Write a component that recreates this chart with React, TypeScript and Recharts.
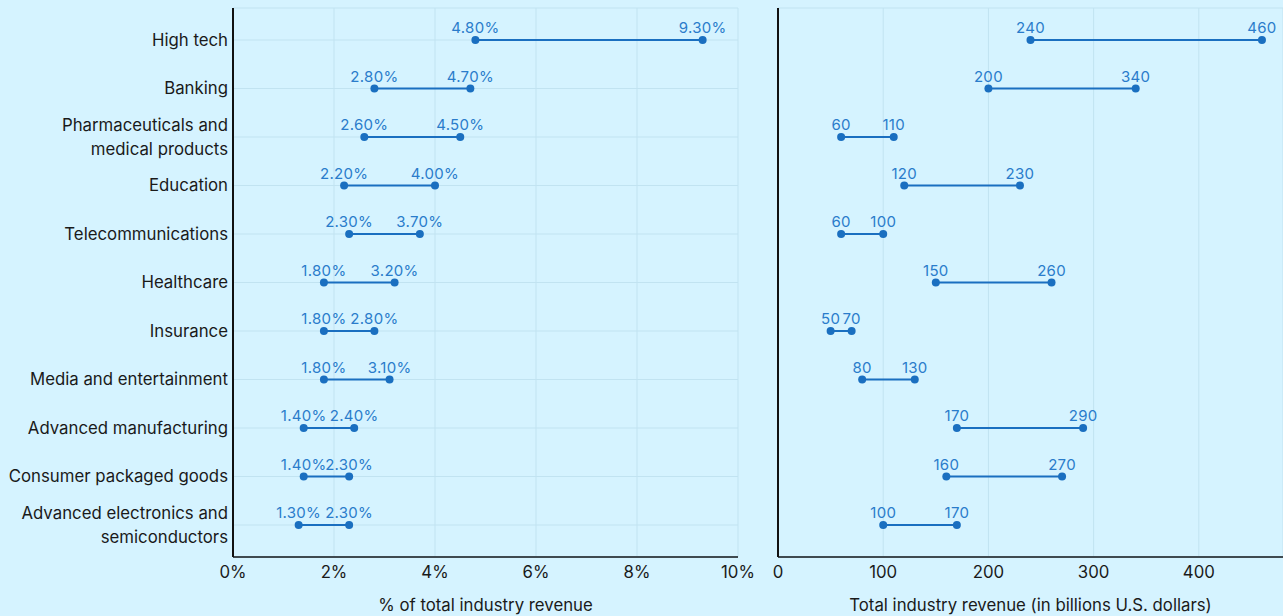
import React from "react";
import { ScatterChart, Scatter, XAxis, YAxis, CartesianGrid, LabelList } from "recharts";

const categories = [
  "High tech",
  "Banking",
  "Pharmaceuticals and medical products",
  "Education",
  "Telecommunications",
  "Healthcare",
  "Insurance",
  "Media and entertainment",
  "Advanced manufacturing",
  "Consumer packaged goods",
  "Advanced electronics and semiconductors",
];
const categoryLines = [
  ["High tech"],
  ["Banking"],
  ["Pharmaceuticals and", "medical products"],
  ["Education"],
  ["Telecommunications"],
  ["Healthcare"],
  ["Insurance"],
  ["Media and entertainment"],
  ["Advanced manufacturing"],
  ["Consumer packaged goods"],
  ["Advanced electronics and", "semiconductors"],
];
const pctLow = [4.8, 2.8, 2.6, 2.2, 2.3, 1.8, 1.8, 1.8, 1.4, 1.4, 1.3];
const pctHigh = [9.3, 4.7, 4.5, 4.0, 3.7, 3.2, 2.8, 3.1, 2.4, 2.3, 2.3];
const revLow = [240, 200, 60, 120, 60, 150, 50, 80, 170, 160, 100];
const revHigh = [460, 340, 110, 230, 100, 260, 70, 130, 290, 270, 170];
const pctTicks = [0, 2, 4, 6, 8, 10];
const revTicks = [0, 100, 200, 300, 400];
const rowTicks = categories.map((_, i) => i);

const BG = "#d5f3ff";
const GRID = "#c1e3f1";
const DOT = "#1a6fc0";
const LABEL = "#2a7ccb";
const FONT = "Inter, 'Noto Sans', sans-serif";

const dot = (props: any) => <circle cx={props.cx} cy={props.cy} r={4} fill={DOT} />;

const CategoryTick = (props: any) => {
  const { x, y, payload } = props;
  const lines = categoryLines[payload.value] || [];
  const lh = 23.3;
  const start = -((lines.length - 1) * lh) / 2;
  return (
    <text x={x} y={y} textAnchor="end" fill="#1a1a1a" fontSize={16.8} fontFamily={FONT}>
      {lines.map((l, i) => (
        <tspan key={i} x={x} y={y + start + i * lh} dy="0.35em">
          {l}
        </tspan>
      ))}
    </text>
  );
};

const rows = (low: number[], high: number[]) =>
  categories.map((c, i) => [
    { x: low[i], y: i, name: c },
    { x: high[i], y: i, name: c },
  ]);

const pctRows = rows(pctLow, pctHigh);
const revRows = rows(revLow, revHigh);

const axisTick = { fill: "#1a1a1a", fontSize: 16.8, fontFamily: FONT };
const titleStyle = { fill: "#1a1a1a", fontSize: 16.8, fontFamily: FONT };

export default function App() {
  return (
    <div
      style={{
        position: "absolute",
        left: 0,
        top: 0,
        width: 1283,
        height: 616,
        background: BG,
        fontFamily: FONT,
        overflow: "hidden",
      }}
    >
      <div style={{ position: "absolute", left: 0, top: 0 }}>
        <ScatterChart width={770} height={616} margin={{ top: 8, right: 32, bottom: 0, left: 0 }}>
          <CartesianGrid stroke={GRID} strokeWidth={1} />
          <XAxis
            type="number"
            dataKey="x"
            domain={[0, 10]}
            ticks={pctTicks}
            tickFormatter={(v: number) => `${v}%`}
            tick={axisTick}
            tickLine={false}
            tickSize={6}
            tickMargin={3}
            axisLine={{ stroke: "#3f4a50", strokeWidth: 2 }}
            height={59}
            interval={0}
            label={{ value: "% of total industry revenue", position: "insideBottom", offset: 5, ...titleStyle }}
          />
          <YAxis
            type="number"
            dataKey="y"
            domain={[-0.66, 10.66]}
            reversed
            ticks={rowTicks}
            interval={0}
            width={233}
            tickLine={false}
            tickSize={3}
            tickMargin={2}
            tick={<CategoryTick />}
            axisLine={{ stroke: "#111111", strokeWidth: 2 }}
          />
          {pctRows.map((d, i) => (
            <Scatter
              key={i}
              data={d}
              fill={DOT}
              line={{ stroke: DOT, strokeWidth: 2 }}
              shape={dot}
              isAnimationActive={false}
            >
              <LabelList
                dataKey="x"
                position="top"
                offset={2}
                formatter={(v: number) => `${v.toFixed(2)}%`}
                fill={LABEL}
                fontSize={15}
                letterSpacing={0.3}
                fontFamily={FONT}
              />
            </Scatter>
          ))}
        </ScatterChart>
      </div>
      <div style={{ position: "absolute", left: 740, top: 0 }}>
        <ScatterChart width={543} height={616} margin={{ top: 8, right: 0, bottom: 0, left: 0 }}>
          <CartesianGrid stroke={GRID} strokeWidth={1} />
          <XAxis
            type="number"
            dataKey="x"
            domain={[0, 480]}
            ticks={revTicks}
            tick={axisTick}
            tickLine={false}
            tickSize={6}
            tickMargin={3}
            axisLine={{ stroke: "#3f4a50", strokeWidth: 2 }}
            height={59}
            interval={0}
            label={{ value: "Total industry revenue (in billions U.S. dollars)", position: "insideBottom", offset: 5, ...titleStyle }}
          />
          <YAxis
            type="number"
            dataKey="y"
            domain={[-0.66, 10.66]}
            reversed
            ticks={rowTicks}
            interval={0}
            width={38}
            tick={false}
            tickLine={false}
            axisLine={{ stroke: "#111111", strokeWidth: 2 }}
          />
          {revRows.map((d, i) => (
            <Scatter
              key={i}
              data={d}
              fill={DOT}
              line={{ stroke: DOT, strokeWidth: 2 }}
              shape={dot}
              isAnimationActive={false}
            >
              <LabelList
                dataKey="x"
                position="top"
                offset={2}
                formatter={(v: number) => `${v}`}
                fill={LABEL}
                fontSize={15}
                letterSpacing={0.3}
                fontFamily={FONT}
              />
            </Scatter>
          ))}
        </ScatterChart>
      </div>
    </div>
  );
}
